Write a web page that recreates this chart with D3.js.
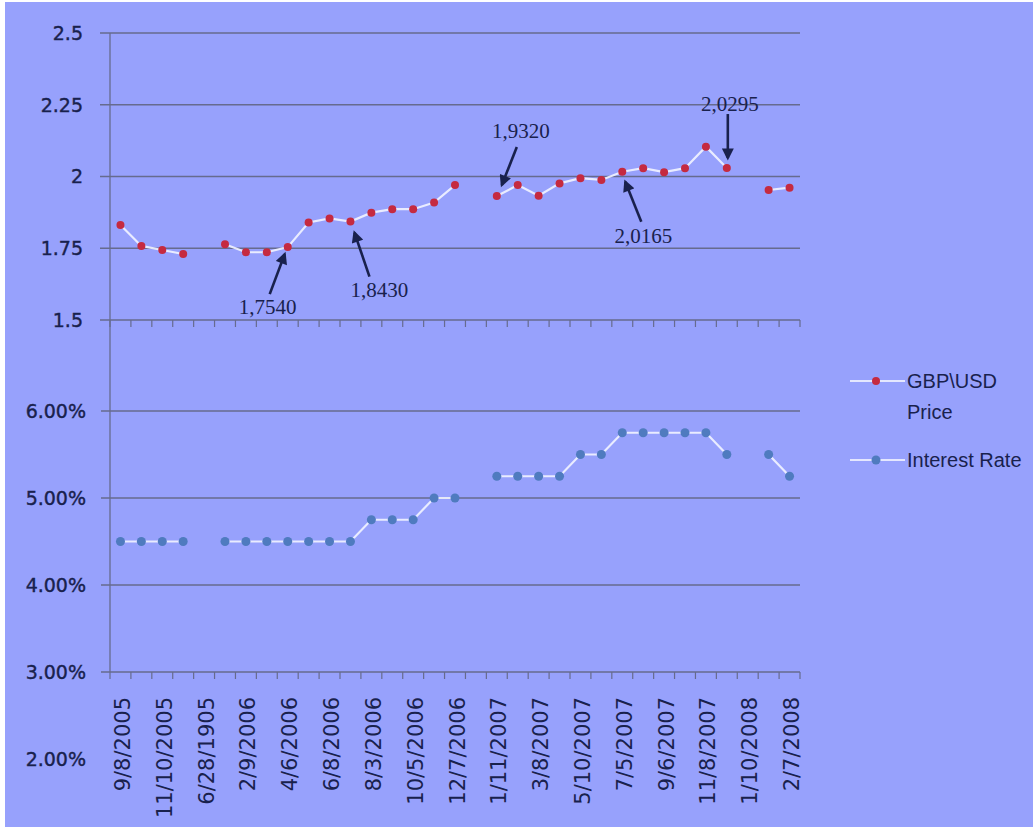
<!DOCTYPE html>
<html>
<head>
<meta charset="utf-8">
<script src="https://cdn.jsdelivr.net/npm/d3@7/dist/d3.min.js"></script>
<style>
  html, body { margin: 0; padding: 0; background: #ffffff; }
  svg { display: block; }
</style>
</head>
<body>
<svg id="chart" width="1033" height="827"></svg>
<script>
// Bank of England MPC meeting dates (two blank rows separate the years)
const dates = [
  "9/8/2005", "10/6/2005", "11/10/2005", "12/8/2005", "6/28/1905",
  "1/12/2006", "2/9/2006", "3/9/2006", "4/6/2006", "5/4/2006",
  "6/8/2006", "7/6/2006", "8/3/2006", "9/7/2006", "10/5/2006",
  "11/9/2006", "12/7/2006", "6/29/1905", "1/11/2007", "2/8/2007",
  "3/8/2007", "4/5/2007", "5/10/2007", "6/7/2007", "7/5/2007",
  "8/2/2007", "9/6/2007", "10/4/2007", "11/8/2007", "12/6/2007",
  "1/10/2008", "1/24/2008", "2/7/2008"
];

// GBP/USD price on each date
const gbpUsd = [
  1.831, 1.758, 1.744, 1.730, null,
  1.764, 1.736, 1.736, 1.7540, 1.840,
  1.854, 1.8430, 1.874, 1.886, 1.886,
  1.909, 1.970, null, 1.9320, 1.970,
  1.933, 1.976, 1.994, 1.988, 2.0165,
  2.029, 2.015, 2.029, 2.104, 2.0295,
  null, 1.953, 1.961
];

// Bank rate, percent
const bankRate = [
  4.50, 4.50, 4.50, 4.50, null,
  4.50, 4.50, 4.50, 4.50, 4.50,
  4.50, 4.50, 4.75, 4.75, 4.75,
  5.00, 5.00, null, 5.25, 5.25,
  5.25, 5.25, 5.50, 5.50, 5.75,
  5.75, 5.75, 5.75, 5.75, 5.50,
  null, 5.50, 5.25
];

const priceTicks = [1.5, 1.75, 2, 2.25, 2.5];
const rateTicks = [2, 3, 4, 5, 6];
const rateGrid = [3, 4, 5, 6];

// Price points called out with arrows
const calloutIdx = [8, 11, 18, 24, 29];

const seriesNames = ["GBP\\USD", "Price"];
const rateName = "Interest Rate";

const BG = "#97a1fc";
const GRID = "#666b8e";
const INK = "#19214d";
const RED = "#c52a40";
const BLUE = "#4f7bbf";
const LINE = "#f2f4ff";

const svg = d3.select("#chart");
svg.append("rect").attr("x", 5).attr("y", 2).attr("width", 1028).attr("height", 825).attr("fill", BG);

const x = d3.scaleBand().domain(dates).range([110, 800]).paddingInner(0).paddingOuter(0);
const cx = d => x(d) + x.bandwidth() / 2;
const yP = d3.scaleLinear().domain([1.5, 2.5]).range([320, 33]);
const yR = d3.scaleLinear().domain([3, 6]).range([672, 411]);

const priceData = dates.map((d, i) => ({ d, v: gbpUsd[i] }));
const rateData = dates.map((d, i) => ({ d, v: bankRate[i] }));

// gridlines + left ticks
const g = svg.append("g");
g.selectAll(".pg").data(priceTicks).join("line")
  .attr("x1", 100).attr("x2", 800)
  .attr("y1", d => yP(d)).attr("y2", d => yP(d))
  .attr("stroke", GRID).attr("stroke-width", 1.3);
g.selectAll(".rg").data(rateGrid).join("line")
  .attr("x1", 101).attr("x2", 800)
  .attr("y1", d => yR(d)).attr("y2", d => yR(d))
  .attr("stroke", GRID).attr("stroke-width", 1.3);

// vertical axis line
g.append("line").attr("x1", 110).attr("x2", 110).attr("y1", yP(2.5)).attr("y2", yR(3))
  .attr("stroke", GRID).attr("stroke-width", 1.3);

// category ticks under both horizontal axes
const bounds = dates.map(d => x(d)).concat([x.range()[1]]);
[yP(1.5), yR(3)].forEach(y0 => {
  g.append("g").selectAll("line").data(bounds).join("line")
    .attr("x1", d => d).attr("x2", d => d)
    .attr("y1", y0).attr("y2", y0 + 7)
    .attr("stroke", GRID).attr("stroke-width", 1.2);
});

// y tick labels
const yl = svg.append("g").attr("font-family", "DejaVu Sans, Verdana, sans-serif")
  .attr("font-size", 19).attr("fill", INK).attr("stroke", INK).attr("stroke-width", 0.4)
  .attr("text-anchor", "end");
yl.selectAll(".pl").data(priceTicks).join("text")
  .attr("x", 83).attr("y", d => yP(d)).attr("dy", "0.36em")
  .text(d => String(d));
yl.selectAll(".rl").data(rateTicks).join("text")
  .attr("x", 86).attr("y", d => yR(d)).attr("dy", "0.36em")
  .text(d => d.toFixed(2) + "%");

// x labels (every second category)
const xl = svg.append("g").attr("font-family", "DejaVu Sans, Verdana, sans-serif")
  .attr("font-size", 21).attr("fill", INK).attr("text-anchor", "end");
xl.selectAll("text").data(dates.filter((d, i) => i % 2 === 0)).join("text")
  .attr("transform", d => `translate(${cx(d) + 2},697) rotate(-90)`)
  .attr("dy", "0.36em")
  .text(d => d);

// series lines
const lineP = d3.line().defined(p => p.v != null).x(p => cx(p.d)).y(p => yP(p.v));
const lineR = d3.line().defined(p => p.v != null).x(p => cx(p.d)).y(p => yR(p.v));
svg.append("path").attr("d", lineR(rateData)).attr("fill", "none")
  .attr("stroke", LINE).attr("stroke-width", 2.2).attr("opacity", 0.9);
svg.append("path").attr("d", lineP(priceData)).attr("fill", "none")
  .attr("stroke", LINE).attr("stroke-width", 2.2).attr("opacity", 0.9);

svg.append("g").selectAll("circle").data(rateData.filter(p => p.v != null)).join("circle")
  .attr("cx", p => cx(p.d)).attr("cy", p => yR(p.v)).attr("r", 4.5).attr("fill", BLUE);
svg.append("g").selectAll("circle").data(priceData.filter(p => p.v != null)).join("circle")
  .attr("cx", p => cx(p.d)).attr("cy", p => yP(p.v)).attr("r", 4).attr("fill", RED);

// callouts
const defs = svg.append("defs");
defs.append("marker").attr("id", "arrowhead").attr("viewBox", "0 0 10 10")
  .attr("refX", 8).attr("refY", 5).attr("markerWidth", 5).attr("markerHeight", 4.6)
  .attr("orient", "auto-start-reverse").attr("markerUnits", "strokeWidth")
  .append("path").attr("d", "M0,0 L10,5 L0,10 z").attr("fill", INK);

// tip / tail / text offsets from each called-out point
const calloutLayout = [
  { tip: [-3, 7], tail: [-18, 47], text: [-20, 60] },
  { tip: [4, 11], tail: [19, 55], text: [29, 68] },
  { tip: [5, -11], tail: [20, -49], text: [24, -65] },
  { tip: [3, 10], tail: [19, 50], text: [21, 64] },
  { tip: [1, -10], tail: [1, -54], text: [3, -64] }
];
const fmt = v => d3.format(".4f")(v).replace(".", ",");
const co = svg.append("g");
calloutIdx.forEach((idx, k) => {
  const px = cx(dates[idx]), py = yP(gbpUsd[idx]);
  const L = calloutLayout[k];
  co.append("line")
    .attr("x1", px + L.tail[0]).attr("y1", py + L.tail[1])
    .attr("x2", px + L.tip[0]).attr("y2", py + L.tip[1])
    .attr("stroke", INK).attr("stroke-width", 2.6)
    .attr("marker-end", "url(#arrowhead)");
  co.append("text")
    .attr("x", px + L.text[0]).attr("y", py + L.text[1]).attr("dy", "0.35em")
    .attr("text-anchor", "middle")
    .attr("font-family", "Liberation Serif, Times New Roman, serif")
    .attr("font-size", 21).attr("fill", INK)
    .text(fmt(gbpUsd[idx]));
});

// legend
const lg = svg.append("g").attr("font-family", "Liberation Sans, Arial, sans-serif")
  .attr("font-size", 20).attr("fill", INK);
const legendRows = [
  { color: RED, r: 4, y: 381, lines: seriesNames },
  { color: BLUE, r: 4.5, y: 460, lines: [rateName] }
];
legendRows.forEach(row => {
  lg.append("line").attr("x1", 850).attr("x2", 905).attr("y1", row.y).attr("y2", row.y)
    .attr("stroke", LINE).attr("stroke-width", 2).attr("opacity", 0.85);
  lg.append("circle").attr("cx", 876).attr("cy", row.y).attr("r", row.r).attr("fill", row.color);
  row.lines.forEach((t, j) => {
    lg.append("text").attr("x", 907).attr("y", row.y + j * 31).attr("dy", "0.36em").text(t);
  });
});
</script>
</body>
</html>
